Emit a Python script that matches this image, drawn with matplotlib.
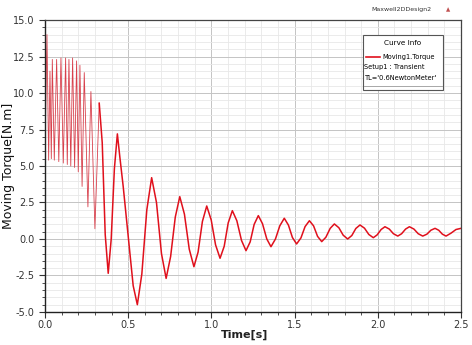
"""
Moving torque transient (Maxwell 2D export style plot).
"""

import numpy as np
import matplotlib.pyplot as plt
from matplotlib.ticker import MultipleLocator, FormatStrFormatter
from matplotlib.patches import Rectangle

# start-up ripple: time [s], torque [N.m]
early_time = [0.000, 0.012, 0.022, 0.030, 0.038, 0.044, 0.056, 0.070, 0.083,
              0.096, 0.110, 0.124, 0.134, 0.144, 0.155, 0.166, 0.178, 0.190,
              0.200, 0.210, 0.223, 0.236, 0.258, 0.276, 0.300, 0.326]
early_torque = [6.0, 14.0, 5.4, 11.5, 5.5, 12.3, 5.4, 12.3, 5.3,
                12.4, 5.2, 12.4, 5.1, 12.3, 5.0, 12.4, 4.9, 12.2,
                4.6, 11.9, 3.6, 11.4, 2.2, 10.1, 0.7, 9.3]

# decaying swing after start-up
late_time = [0.326, 0.344, 0.362, 0.380, 0.398, 0.417, 0.435, 0.450, 0.470,
             0.500, 0.530, 0.555, 0.582, 0.612, 0.641, 0.670, 0.700, 0.728,
             0.755, 0.783, 0.810, 0.838, 0.867, 0.895, 0.920, 0.946, 0.972,
             0.999, 1.025, 1.052, 1.077, 1.101, 1.126, 1.153, 1.181, 1.208,
             1.233, 1.257, 1.282, 1.307, 1.333, 1.358, 1.385, 1.411, 1.438,
             1.463, 1.487, 1.512, 1.538, 1.563, 1.589, 1.614, 1.638, 1.663,
             1.688, 1.714, 1.739, 1.766, 1.792, 1.819, 1.844, 1.868, 1.893,
             1.920, 1.946, 1.973, 1.996, 2.020, 2.043, 2.069, 2.094, 2.120,
             2.143, 2.167, 2.190, 2.217, 2.243, 2.270, 2.295, 2.319, 2.344,
             2.366, 2.388, 2.410, 2.440, 2.470, 2.500]
late_torque = [9.3, 6.6, 0.3, -2.35, 0.0, 4.8, 7.2, 5.6, 3.6,
               0.2, -3.2, -4.5, -2.4, 2.0, 4.2, 2.5, -1.0, -2.7,
               -1.2, 1.5, 2.9, 1.7, -0.7, -1.9, -0.9, 1.2, 2.26,
               1.3, -0.4, -1.32, -0.5, 1.1, 1.94, 1.25, -0.1, -0.8,
               -0.2, 1.0, 1.6, 1.05, 0.0, -0.53, 0.0, 0.9, 1.42,
               0.95, 0.1, -0.34, 0.07, 0.85, 1.25, 0.9, 0.18, -0.18,
               0.12, 0.73, 1.03, 0.77, 0.26, 0.0, 0.24, 0.72, 0.96,
               0.74, 0.31, 0.09, 0.28, 0.65, 0.84, 0.68, 0.36, 0.2,
               0.36, 0.68, 0.84, 0.68, 0.36, 0.2, 0.33, 0.6, 0.73,
               0.6, 0.33, 0.2, 0.4, 0.65, 0.73]

legend_lines = ["Moving1.Torque", "Setup1 : Transient", "TL='0.6NewtonMeter'"]

narrow = ['Liberation Sans Narrow', 'DejaVu Sans']

fig = plt.figure(figsize=(4.72, 3.45), dpi=100)
ax = fig.add_axes([0.0953, 0.0957, 0.8814, 0.8463])

ax.plot(early_time, early_torque, color='#d8404c', linewidth=0.6)
ax.plot(late_time, late_torque, color='#e0101c', linewidth=1.1)

ax.set_xlim(0, 2.5)
ax.set_ylim(-5, 15)
ax.xaxis.set_major_locator(MultipleLocator(0.5))
ax.xaxis.set_minor_locator(MultipleLocator(0.1))
ax.yaxis.set_major_locator(MultipleLocator(2.5))
ax.yaxis.set_minor_locator(MultipleLocator(0.5))
ax.xaxis.set_major_formatter(FormatStrFormatter('%.1f'))
ax.yaxis.set_major_formatter(FormatStrFormatter('%.1f'))

ax.grid(True, which='major', color='#c4c4c4', linewidth=0.7)
ax.grid(True, which='minor', color='#e8e8e8', linewidth=0.6)
ax.set_axisbelow(True)

ax.tick_params(which='both', direction='out', colors='#333333',
               labelsize=7, labelcolor='#333333')
ax.tick_params(which='major', length=4, width=0.8)
ax.tick_params(which='minor', length=2, width=0.6)
ax.tick_params(axis='x', pad=2)

for side in ['left', 'bottom']:
    ax.spines[side].set_color('#222222')
    ax.spines[side].set_linewidth(1.0)
for side in ['top', 'right']:
    ax.spines[side].set_color('#444444')
    ax.spines[side].set_linewidth(0.9)

ax.set_ylabel('Moving Torque[N.m]', fontsize=9, color='#111111')
ax.yaxis.set_label_coords(-0.072, 0.5)
ax.set_xlabel('Time[s]', fontsize=8, fontweight='bold', color='#222222',
              va='center')
ax.xaxis.set_label_coords(0.48, -0.077)

# curve info box
box = Rectangle((0.764, 0.76), 0.193, 0.189, transform=ax.transAxes,
                facecolor='white', edgecolor='#555555', linewidth=0.8,
                zorder=5)
ax.add_patch(box)
ax.plot([0.766, 0.955], [0.775, 0.775], transform=ax.transAxes,
        color='#999999', linewidth=0.6, zorder=6)
ax.text(0.86, 0.922, 'Curve Info', transform=ax.transAxes, ha='center',
        va='center', fontsize=5.2, family=narrow, zorder=6)
ax.plot([0.772, 0.805], [0.875, 0.875], transform=ax.transAxes,
        color='#e0101c', linewidth=1.2, zorder=6)
ax.text(0.812, 0.875, legend_lines[0], transform=ax.transAxes, ha='left',
        va='center', fontsize=4.8, family=narrow, zorder=6)
ax.text(0.768, 0.838, legend_lines[1], transform=ax.transAxes, ha='left',
        va='center', fontsize=4.8, family=narrow, zorder=6)
ax.text(0.768, 0.803, legend_lines[2], transform=ax.transAxes, ha='left',
        va='center', fontsize=4.8, family=narrow, zorder=6)

fig.text(0.85, 0.973, 'Maxwell2DDesign2', ha='center', va='center',
         fontsize=4.5, family=narrow, color='#333333')
fig.text(0.95, 0.973, '\u25b2', ha='center', va='center', fontsize=4,
         color='#c05050')

plt.savefig('out.png', dpi=100)
plt.close()
